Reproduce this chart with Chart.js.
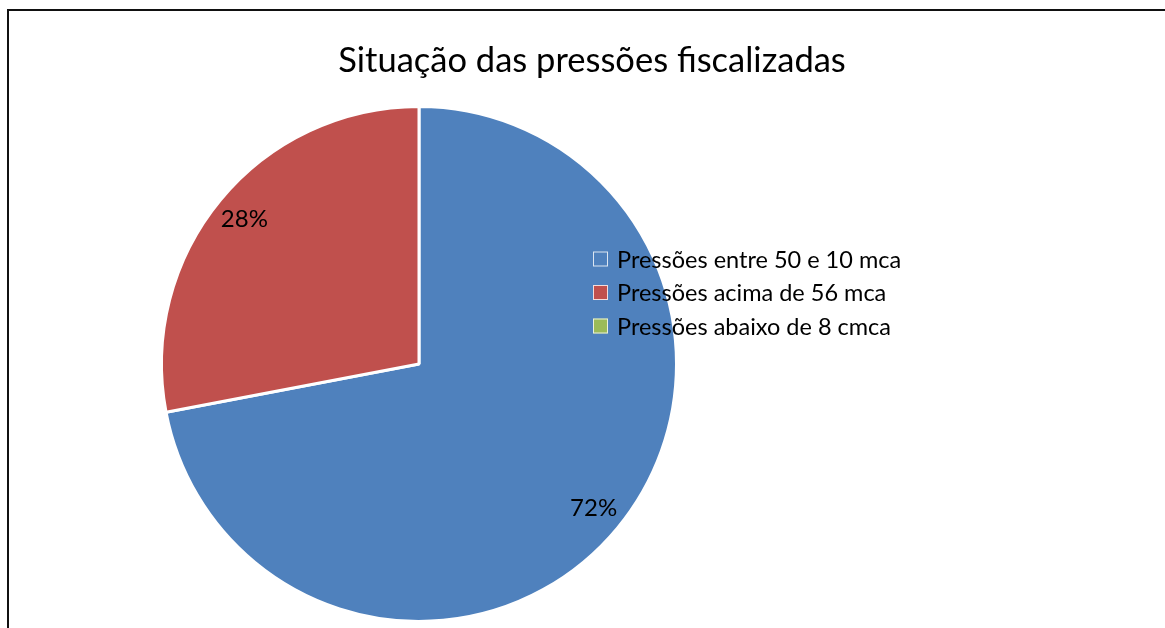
<!DOCTYPE html>
<html>
<head>
<meta charset="utf-8">
<script src="https://cdn.jsdelivr.net/npm/chart.js@4.4.1/dist/chart.umd.min.js"></script>
<style>
  html, body { margin: 0; padding: 0; background: #ffffff; }
  #wrap { position: relative; width: 1165px; height: 628px; overflow: hidden; }
  #frame { position: absolute; left: 7px; top: 9px; width: 1200px; height: 700px;
           border-left: 2px solid #111; border-top: 2px solid #111; box-sizing: border-box; }
  canvas { position: absolute; left: 0; top: 0; }
</style>
</head>
<body>
<div id="wrap">
  <div id="frame"></div>
  <canvas id="c" width="1165" height="628"></canvas>
</div>
<script>
const title = "Situação das pressões fiscalizadas";
const categories = ["Pressões entre 50 e 10 mca", "Pressões acima de 56 mca", "Pressões abaixo de 8 cmca"];
const values = [72, 28, 0];
const colors = ["#4F81BD", "#C0504D", "#9BBB59"];
const FONT = "Lato, 'Open Sans', sans-serif";

const titlePlugin = {
  id: 'customTitle',
  afterDraw(chart) {
    const ctx = chart.ctx;
    ctx.save();
    ctx.font = "34.5px " + FONT;
    ctx.fillStyle = "#000";
    ctx.textAlign = "center";
    ctx.textBaseline = "middle";
    ctx.fillText(title, 592, 61);
    ctx.restore();
  }
};

const legendPlugin = {
  id: 'customLegend',
  afterDraw(chart) {
    const ctx = chart.ctx;
    ctx.save();
    ctx.font = "23.5px " + FONT;
    ctx.textBaseline = "middle";
    ctx.textAlign = "left";
    const x0 = 593, y0 = 259, step = 33.5, box = 15;
    categories.forEach((lab, i) => {
      const y = y0 + i * step;
      ctx.fillStyle = colors[i];
      ctx.fillRect(x0, y - box / 2, box, box);
      ctx.strokeStyle = "rgba(255,255,255,0.8)";
      ctx.lineWidth = 1;
      ctx.strokeRect(x0 + 0.5, y - box / 2 + 0.5, box - 1, box - 1);
      ctx.fillStyle = "#000";
      ctx.fillText(lab, 617, y + 1);
    });
    ctx.restore();
  }
};

const labelPlugin = {
  id: 'sliceLabels',
  afterDatasetsDraw(chart) {
    const ctx = chart.ctx;
    const meta = chart.getDatasetMeta(0);
    const total = values.reduce((a, b) => a + b, 0);
    ctx.save();
    ctx.font = "24px " + FONT;
    ctx.fillStyle = "#000";
    ctx.textAlign = "center";
    ctx.textBaseline = "middle";
    meta.data.forEach((arc, i) => {
      if (!values[i]) return;
      const p = arc.getProps(['x', 'y', 'startAngle', 'endAngle', 'outerRadius'], true);
      const mid = (p.startAngle + p.endAngle) / 2;
      const r = p.outerRadius * 0.88;
      const pct = Math.round(values[i] / total * 100) + "%";
      ctx.fillText(pct, p.x + Math.cos(mid) * r, p.y + Math.sin(mid) * r);
    });
    ctx.restore();
  }
};

new Chart(document.getElementById('c'), {
  type: 'pie',
  data: {
    labels: categories,
    datasets: [{
      data: values,
      backgroundColor: colors,
      borderColor: "#ffffff",
      borderWidth: 3
    }]
  },
  options: {
    responsive: false,
    animation: false,
    layout: { padding: { top: 105, bottom: 5, left: 160, right: 487 } },
    plugins: {
      legend: { display: false },
      title: { display: false },
      tooltip: { enabled: false }
    }
  },
  plugins: [titlePlugin, legendPlugin, labelPlugin]
});
</script>
</body>
</html>
